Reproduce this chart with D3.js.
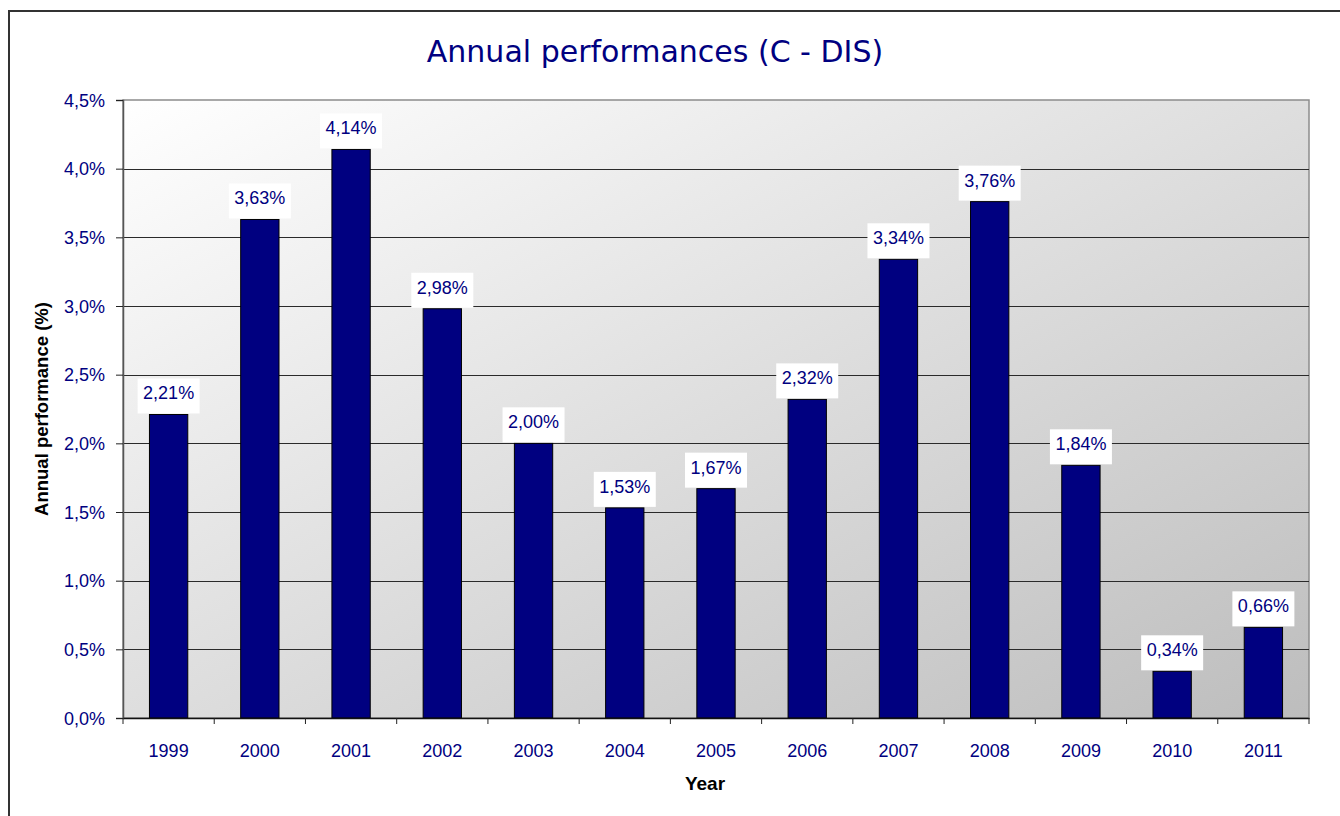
<!DOCTYPE html>
<html>
<head>
<meta charset="utf-8">
<script src="https://cdn.jsdelivr.net/npm/d3@7"></script>
<style>
  body { margin: 0; background: #fff; }
  svg { display: block; }
</style>
</head>
<body>
<div id="graph"></div>
<script>
const years = ['1999', '2000', '2001', '2002', '2003', '2004', '2005', '2006', '2007', '2008', '2009', '2010', '2011']
const performances = [2.21, 3.63, 4.14, 2.98, 2.00, 1.53, 1.67, 2.32, 3.34, 3.76, 1.84, 0.34, 0.66]
const yTicks = [0, 0.5, 1.0, 1.5, 2.0, 2.5, 3.0, 3.5, 4.0, 4.5]
const title = 'Annual performances (C - DIS)'
const yTitle = 'Annual performance (%)'
const xTitle = 'Year'

const drawGraph = () => {
  const W = 1340, H = 816
  const left = 123, top = 100, right = 1309, bottom = 718
  const width = right - left, height = bottom - top
  const navy = '#000080'
  const fmt = v => v.toFixed(1).replace('.', ',') + '%'
  const fmtLabel = v => v.toFixed(2).replace('.', ',') + '%'

  const data = years.map((y, i) => ({ year: y, value: performances[i] }))

  const xScale = d3.scaleBand().domain(years).range([0, width]).paddingInner(0.58).paddingOuter(0.29)
  const xBand = d3.scaleBand().domain(years).range([0, width])
  const yScale = d3.scaleLinear().domain([0, 4.5]).range([height, 0])

  const svg = d3.select('#graph').append('svg')
    .attr('width', W)
    .attr('height', H)
    .style('font-family', '"Liberation Sans", Arial, sans-serif')

  // outer frame
  svg.append('rect')
    .attr('x', 9).attr('y', 11)
    .attr('width', W).attr('height', H)
    .attr('fill', 'none')
    .attr('stroke', '#333')
    .attr('stroke-width', 2)

  const defs = svg.append('defs')
  const grad = defs.append('linearGradient')
    .attr('id', 'bg')
    .attr('x1', 0).attr('y1', 0).attr('x2', 1).attr('y2', 1)
  grad.append('stop').attr('offset', '0%').attr('stop-color', '#ffffff')
  grad.append('stop').attr('offset', '100%').attr('stop-color', '#bdbdbd')

  svg.append('text')
    .attr('x', 655).attr('y', 62)
    .attr('text-anchor', 'middle')
    .style('font-family', '"DejaVu Sans", Verdana, sans-serif')
    .style('font-size', '30px')
    .attr('fill', navy)
    .text(title)

  const g = svg.append('g').attr('transform', `translate(${left}, ${top})`)

  g.append('rect')
    .attr('width', width).attr('height', height)
    .attr('fill', 'url(#bg)')
    .attr('stroke', '#8c8c8c')
    .attr('stroke-width', 1.5)

  // gridlines
  g.append('g').selectAll('line')
    .data(yTicks.filter(t => t > 0 && t < 4.5))
    .enter().append('line')
    .attr('x1', 0).attr('x2', width)
    .attr('y1', d => Math.round(yScale(d)) + 0.5)
    .attr('y2', d => Math.round(yScale(d)) + 0.5)
    .attr('stroke', '#2a2a2a')
    .attr('stroke-width', 1)

  // bars
  g.selectAll('rect.bar').data(data).enter().append('rect').attr('class', 'bar')
    .attr('x', d => xScale(d.year))
    .attr('y', d => yScale(d.value))
    .attr('width', xScale.bandwidth())
    .attr('height', d => height - yScale(d.value))
    .attr('fill', navy)
    .attr('stroke', '#000')
    .attr('stroke-width', 1)

  // value labels
  const lab = g.append('g').selectAll('g').data(data).enter().append('g')
    .attr('transform', d => `translate(${xScale(d.year) + xScale.bandwidth() / 2}, ${yScale(d.value)})`)
  lab.append('rect')
    .attr('x', -31).attr('y', -36)
    .attr('width', 62).attr('height', 35)
    .attr('fill', '#fff')
  lab.append('text')
    .attr('y', -15)
    .attr('text-anchor', 'middle')
    .style('font-size', '18px')
    .attr('fill', navy)
    .text(d => fmtLabel(d.value))

  // y axis
  const yAxis = d3.axisLeft(yScale).tickValues(yTicks).tickFormat(fmt).tickSize(7).tickPadding(11)
  const ya = g.append('g').call(yAxis)
  ya.select('.domain').attr('stroke', '#555').attr('stroke-width', 1.5)
  ya.selectAll('.tick line').attr('stroke', '#222')
  ya.selectAll('text').style('font-size', '18px').attr('fill', navy).attr('dy', '0.35em')

  // x axis
  const xAxis = d3.axisBottom(xBand).tickSize(0).tickPadding(26)
  const xa = g.append('g').attr('transform', `translate(0, ${height})`).call(xAxis)
  xa.select('.domain').attr('stroke', '#111').attr('stroke-width', 1.5)
  xa.selectAll('text').style('font-size', '18px').attr('fill', navy)
  xa.append('g').selectAll('line')
    .data(years.map(y => xBand(y)).concat([width]))
    .enter().append('line')
    .attr('x1', d => d).attr('x2', d => d)
    .attr('y1', 0).attr('y2', 6)
    .attr('stroke', '#222')

  svg.append('text')
    .attr('transform', `translate(48, ${(top + bottom) / 2}) rotate(-90)`)
    .attr('text-anchor', 'middle')
    .style('font-size', '18.5px')
    .style('font-weight', 'bold')
    .attr('fill', '#000')
    .text(yTitle)

  svg.append('text')
    .attr('x', (left + right) / 2 - 11).attr('y', 790)
    .attr('text-anchor', 'middle')
    .style('font-size', '19px')
    .style('font-weight', 'bold')
    .attr('fill', '#000')
    .text(xTitle)
}

drawGraph()
</script>
</body>
</html>
